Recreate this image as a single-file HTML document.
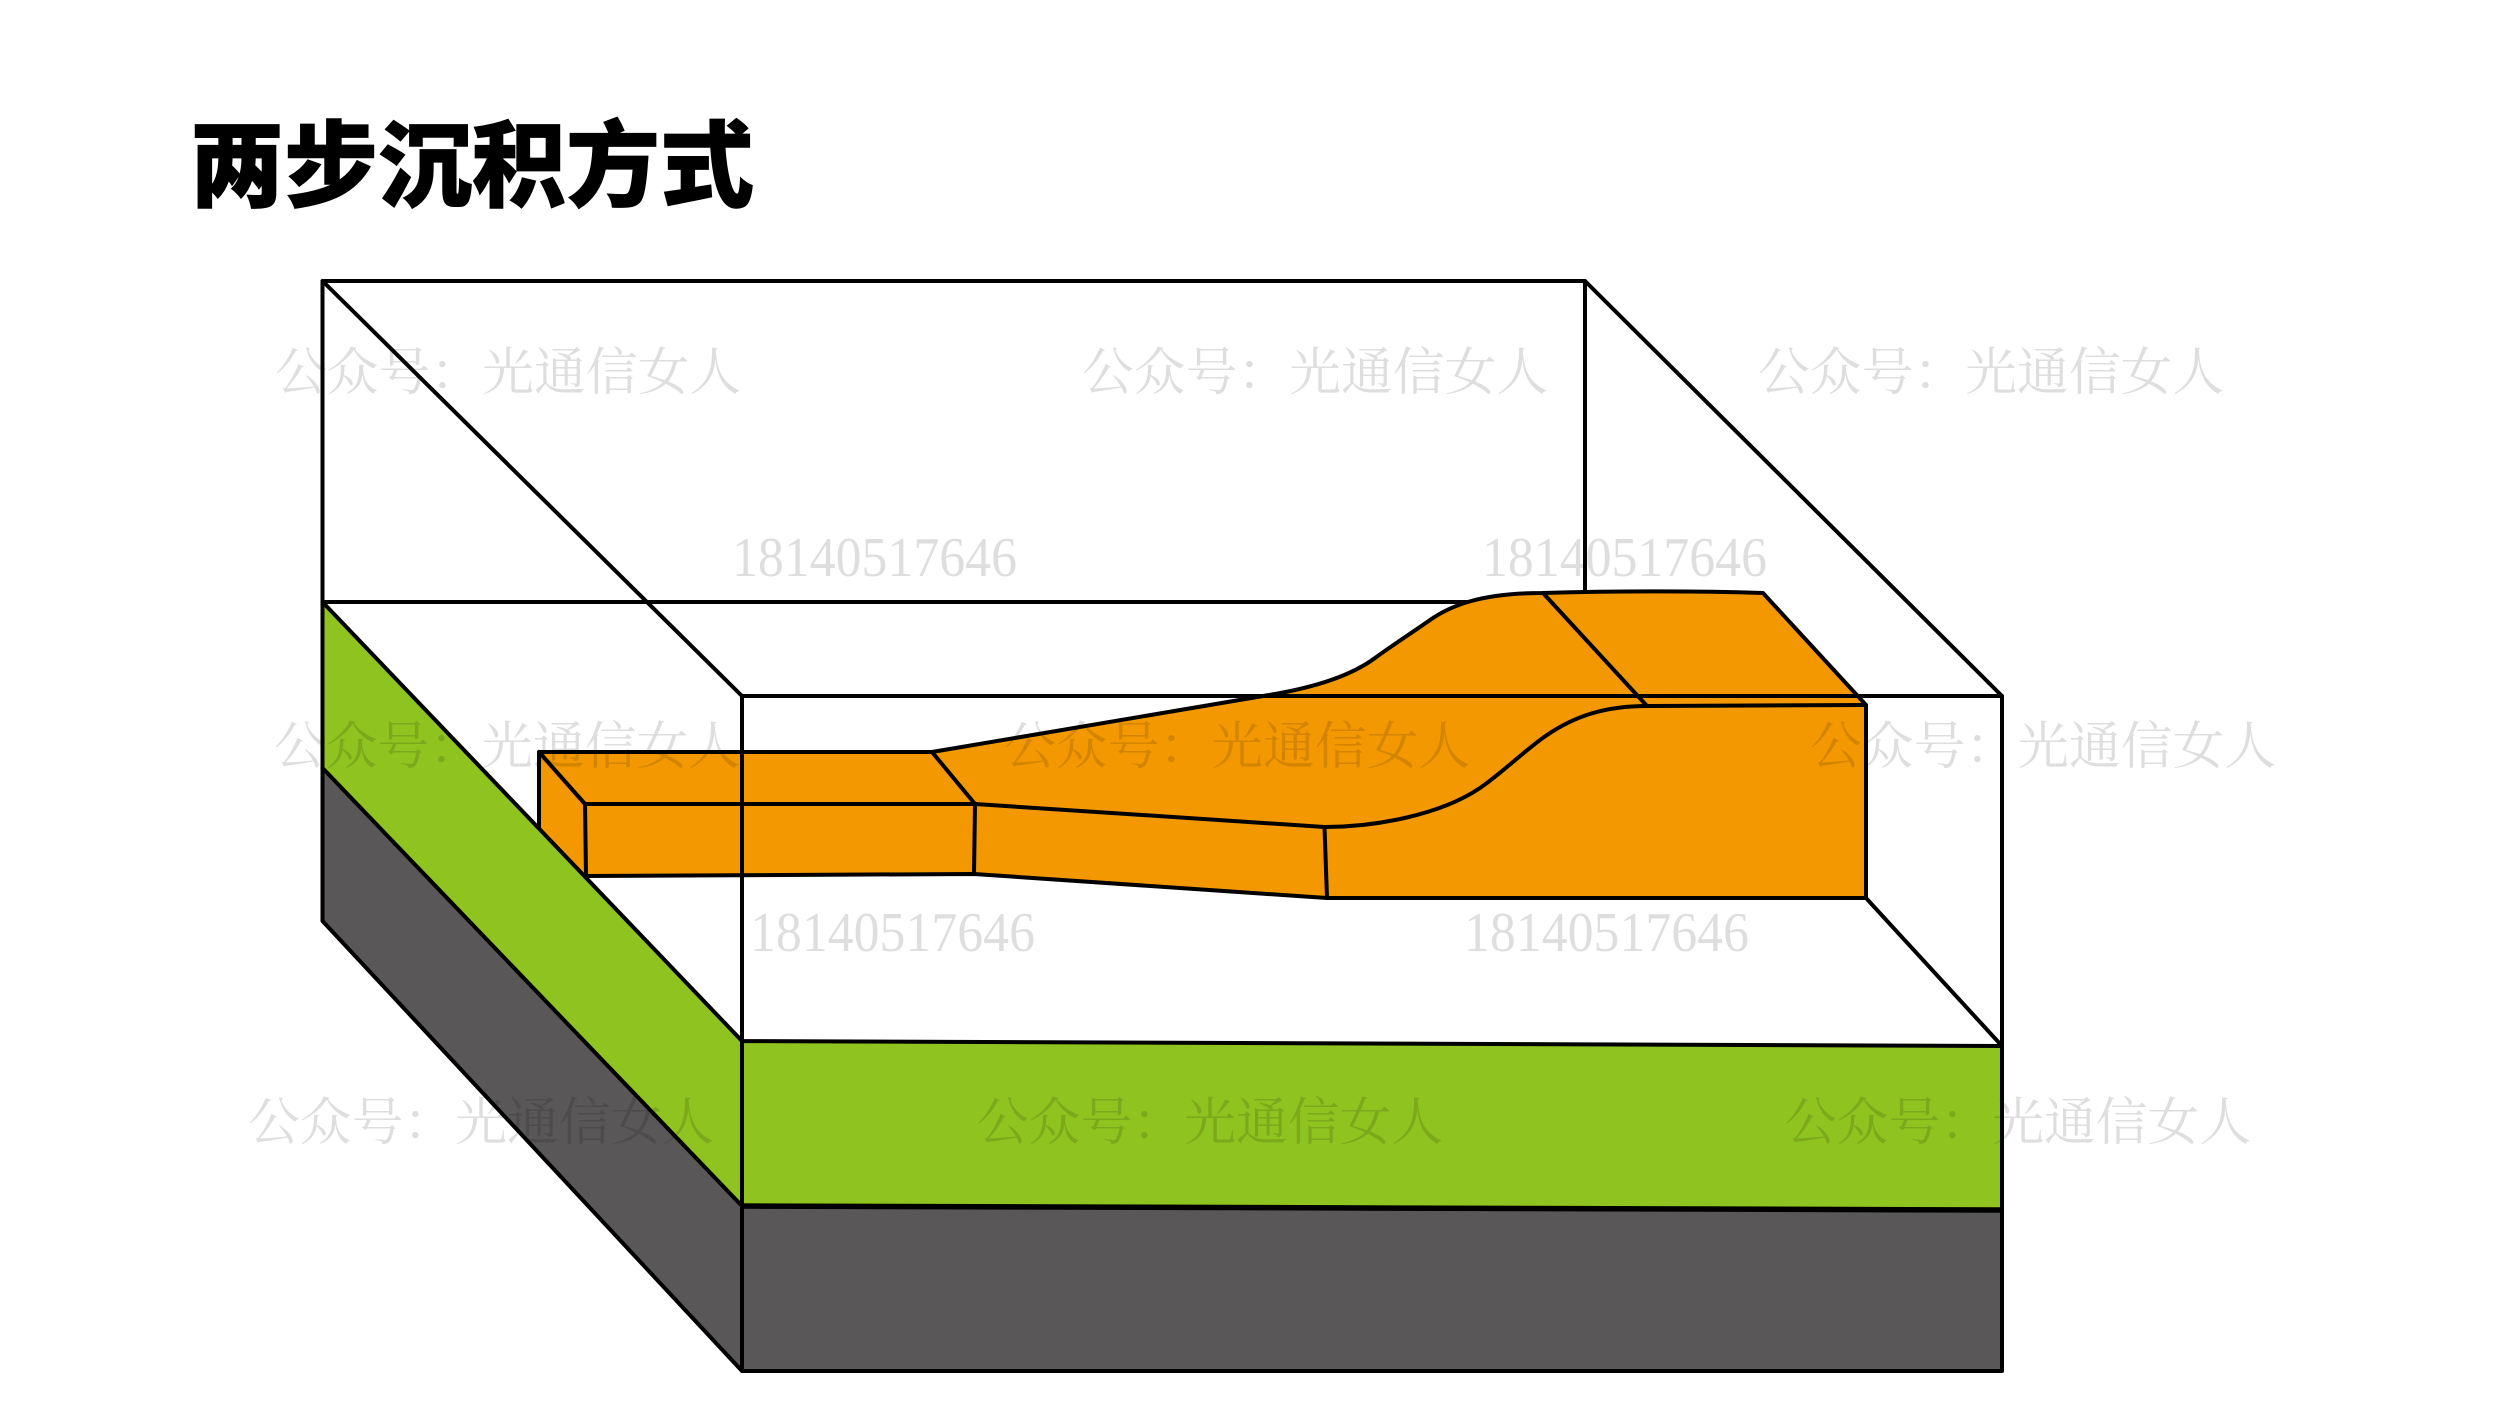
<!DOCTYPE html>
<html lang="zh">
<head>
<meta charset="utf-8">
<title>两步沉积方式</title>
<style>
html,body{margin:0;padding:0;background:#fff;width:2500px;height:1406px;overflow:hidden}
svg{display:block}
.t{font-family:"Liberation Sans","Noto Sans CJK SC",sans-serif;font-weight:900;font-size:94px;fill:#000;stroke:#000;stroke-width:.8px}
.w{font-family:"Liberation Serif","Noto Serif CJK SC",serif;font-size:51.8px;fill:#000;fill-opacity:.13}
.d{font-family:"Liberation Serif",serif;font-size:56px;fill:#000;fill-opacity:.13}
.l{fill:none;stroke:#000;stroke-width:4;stroke-linejoin:round;stroke-linecap:round}
</style>
</head>
<body>
<svg width="2500" height="1406" viewBox="0 0 2500 1406" xmlns="http://www.w3.org/2000/svg">
<rect width="2500" height="1406" fill="#fff"/>
<text class="t" x="190" y="199">两步沉积方式</text>

<!-- back box lines -->
<path class="l" d="M322.500 281H1585L2002 696M322.500 281L742 696M322.500 281V602M322.500 602H1470M1585 281V592"/>

<!-- orange body -->
<path d="M539 752H932L1269 695C1318 687 1352 675 1375 658C1392 645.500 1413 632 1430 620C1450 606 1480 593 1543 593C1620 591 1700 591 1763 593L1866 705V898H1327L974 874L586 876L539 830Z" fill="#F39800"/>
<path class="l" d="M539 752H932L1269 695C1318 687 1352 675 1375 658C1392 645.500 1413 632 1430 620C1450 606 1480 593 1543 593C1620 591 1700 591 1763 593L1866 705V898H1327L974 874L586 876M539 752V830"/>
<path class="l" d="M539 752L585 804H975L1324.500 827C1375 827 1440 815 1480 788C1502 773 1525 750 1547 735C1575 716 1605 706 1647 706L1866 705"/>
<path class="l" d="M932 752L975 804L974 874M585 804L586 876M1324.500 827L1327 898M1543 593L1647 706"/>

<!-- front box lines -->
<path class="l" d="M742 696H2002V1046M742 696V1041M1866 898L2002 1046"/>

<!-- ground layers -->
<path d="M322.500 602L742 1041V1206L322.500 768Z" fill="#8FC31F"/>
<path d="M742 1041L2002 1046V1210L742 1206Z" fill="#8FC31F"/>
<path d="M322.500 768L742 1206V1371L322.500 921Z" fill="#595757"/>
<path d="M742 1206L2002 1210V1371H742Z" fill="#595757"/>
<path class="l" d="M322.500 602L742 1041L2002 1046V1210M322.500 602V921L742 1371H2002V1210M322.500 768L742 1206M742 1041V1371"/>
<path d="M742 1206L2002 1210" fill="none" stroke="#000" stroke-width="5.500"/>

<!-- watermarks -->
<text class="w" x="275" y="390">公众号：光通信女人</text>
<text class="w" x="1082" y="390">公众号：光通信女人</text>
<text class="w" x="1758" y="390">公众号：光通信女人</text>
<text class="d" x="732" y="576" textLength="285" lengthAdjust="spacingAndGlyphs">18140517646</text>
<text class="d" x="1482" y="576" textLength="285" lengthAdjust="spacingAndGlyphs">18140517646</text>
<text class="w" x="274" y="764">公众号：光通信女人</text>
<text class="w" x="1004" y="764">公众号：光通信女人</text>
<text class="w" x="1810" y="764">公众号：光通信女人</text>
<text class="d" x="750" y="951" textLength="285" lengthAdjust="spacingAndGlyphs">18140517646</text>
<text class="d" x="1464" y="951" textLength="285" lengthAdjust="spacingAndGlyphs">18140517646</text>
<text class="w" x="248" y="1140">公众号：光通信女人</text>
<text class="w" x="977" y="1140">公众号：光通信女人</text>
<text class="w" x="1785" y="1140">公众号：光通信女人</text>
</svg>
</body>
</html>
